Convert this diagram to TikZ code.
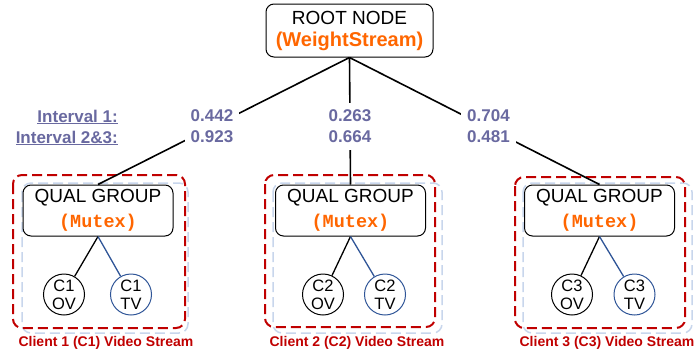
\documentclass[tikz,border=0pt]{standalone}
\usepackage{fontspec}
\setmainfont{Liberation Sans}
\newfontfamily\codefont{Liberation Mono}
\definecolor{wsorange}{RGB}{255,102,0}
\definecolor{weightblue}{RGB}{105,105,160}
\definecolor{grpred}{RGB}{192,0,0}
\definecolor{tvblue}{RGB}{47,85,151}
\definecolor{paleblue}{RGB}{200,214,236}
\begin{document}
\begin{tikzpicture}[x=1pt,y=-1pt,
  rootbox/.style={draw, rounded corners=8pt, line width=1pt, minimum width=167pt,
    minimum height=53pt, align=center, inner sep=0pt, font=\fontsize{19}{22}\selectfont},
  qualbox/.style={draw, rounded corners=8pt, line width=1pt, minimum width=150pt,
    minimum height=51pt, align=center, inner sep=0pt, fill=white,
    font=\fontsize{19}{25}\selectfont},
  ovnode/.style={draw, circle, line width=1pt, minimum size=41pt, inner sep=0pt,
    align=center, font=\fontsize{16.5}{18}\selectfont},
  tvnode/.style={ovnode, draw=tvblue},
  weightlbl/.style={fill=white, align=center, inner xsep=6pt, inner ysep=7pt,
    text=weightblue, font=\fontsize{17}{21}\selectfont\bfseries},
  intlbl/.style={text=weightblue, inner sep=0pt, font=\fontsize{17}{21}\selectfont\bfseries},
  caption/.style={text=grpred, inner sep=0pt, font=\fontsize{14}{16}\selectfont\bfseries},
  redframe/.style={draw=grpred, line width=2pt, dash pattern=on 10pt off 5pt, rounded corners=9pt},
  blueframe/.style={draw=paleblue, line width=1.5pt, dash pattern=on 10pt off 5pt, rounded corners=9pt},
  tree/.style={line width=1.6pt},
  leaf/.style={line width=1.3pt}]
\useasboundingbox (0,0) rectangle (695,356);

% stream frames
\draw[blueframe] (22,183) rectangle (188,333);
\draw[blueframe] (273,183) rectangle (442,333);
\draw[blueframe] (523,183) rectangle (692,333);
\draw[redframe] (13,175) rectangle (185,328);
\draw[redframe] (265,175) rectangle (435,327);
\draw[redframe] (515,177) rectangle (685,328);

% root of the weight tree
\node[rootbox] (root) at (349.5,30.5) {ROOT NODE\\{\fontsize{20}{22}\selectfont\bfseries\color{wsorange}(WeightStream)}};

% quality groups
\node[qualbox] (q1) at (98,210.5) {QUAL GROUP\\{\codefont\fontsize{18.5}{25}\selectfont\bfseries\color{wsorange}(Mutex)}};
\node[qualbox] (q2) at (350.5,210.5) {QUAL GROUP\\{\codefont\fontsize{18.5}{25}\selectfont\bfseries\color{wsorange}(Mutex)}};
\node[qualbox] (q3) at (599.5,210.5) {QUAL GROUP\\{\codefont\fontsize{18.5}{25}\selectfont\bfseries\color{wsorange}(Mutex)}};

% video variants
\node[ovnode] (ov1) at (64,294.5) {C1\\OV};
\node[tvnode] (tv1) at (131,294.5) {C1\\TV};
\node[ovnode] (ov2) at (323,294.5) {C2\\OV};
\node[tvnode] (tv2) at (385,294.5) {C2\\TV};
\node[ovnode] (ov3) at (572,294.5) {C3\\OV};
\node[tvnode] (tv3) at (634.5,294.5) {C3\\TV};

% tree edges
\draw[tree] (root.south) -- (q1.north);
\draw[tree] (root.south) -- (q2.north);
\draw[tree] (root.south) -- (q3.north);
\draw[leaf] (q1.south) -- (ov1);
\draw[leaf, tvblue] (q1.south) -- (tv1);
\draw[leaf] (q2.south) -- (ov2);
\draw[leaf, tvblue] (q2.south) -- (tv2);
\draw[leaf] (q3.south) -- (ov3);
\draw[leaf, tvblue] (q3.south) -- (tv3);

% weights per interval
\node[weightlbl] (w1) at (212,126.5) {0.442\\0.923};
\node[weightlbl] (w2) at (350,126.5) {0.263\\0.664};
\node[weightlbl] (w3) at (488.5,126.5) {0.704\\0.481};
\node[intlbl, anchor=base east] (i1) at (118,122) {\underline{Interval 1:}};
\node[intlbl, anchor=base east] (i23) at (118,143) {\underline{Interval 2\&3:}};

% stream captions
\node[caption] (c1) at (106,343) {Client 1 (C1) Video Stream};
\node[caption] (c2) at (357,343) {Client 2 (C2) Video Stream};
\node[caption] (c3) at (607,343) {Client 3 (C3) Video Stream};
\end{tikzpicture}
\end{document}
